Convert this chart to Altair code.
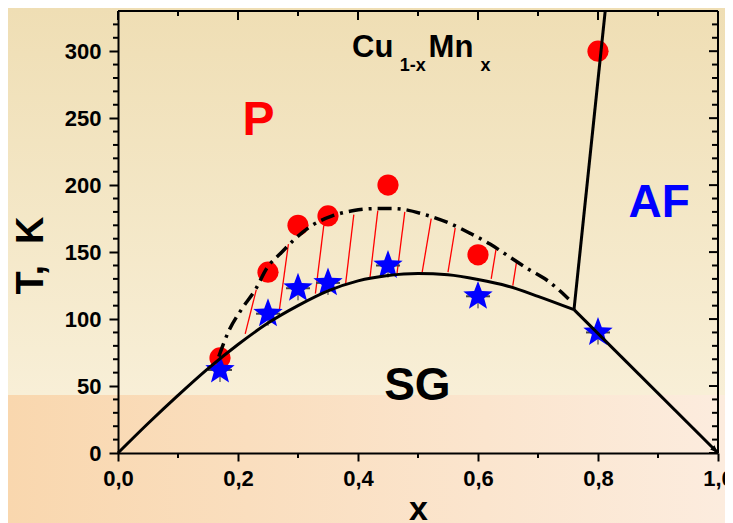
import altair as alt
import pandas as pd

# ---------------- data ----------------
circle_x = [0.17, 0.25, 0.30, 0.35, 0.45, 0.60, 0.80]
circle_T = [71, 135, 170, 177, 200, 148, 300]

star_x = [0.17, 0.25, 0.30, 0.35, 0.45, 0.60, 0.80]
star_T = [62, 104, 123, 127, 140, 117, 90]
star_xerr = [0.02, 0.02, 0.02, 0.02, 0.02, 0.02, 0.02]
star_Terr = [9, 9, 9, 9, 9, 9, 9]

# spin-glass boundary (solid curve)
sg_x = [0.0, 0.05, 0.10, 0.15, 0.20, 0.25, 0.30, 0.35, 0.40, 0.45, 0.50, 0.55, 0.60, 0.65, 0.70, 0.76]
sg_T = [0, 22, 43, 63, 81, 97, 110, 121, 128.5, 132.5, 134, 133, 129.5, 124.5, 117, 107]

# SG / AF boundary and P / AF boundary (straight segments)
af_x = [0.76, 1.00]
af_T = [107, 0]
pa_x = [0.76, 0.812]
pa_T = [107, 330]

# dash-dot curve
dd_x = [0.168, 0.184, 0.207, 0.229, 0.248, 0.272, 0.293, 0.32, 0.357, 0.393, 0.43, 0.46,
        0.515, 0.55, 0.587, 0.62, 0.654, 0.685, 0.715, 0.751]
dd_T = [72, 90.5, 108, 122, 138, 149.5, 159, 169, 177, 181, 182.5, 182.5,
        177.5, 172, 164, 156, 146, 137, 129, 115]

# red hatch lines (bottom end -> top end)
hatch_x1 = [0.212, 0.269, 0.329, 0.379, 0.420, 0.465, 0.507, 0.550, 0.622, 0.658]
hatch_T1 = [89, 107, 119, 125, 131, 134, 135, 135, 130, 125]
hatch_x2 = [0.2305, 0.284, 0.343, 0.393, 0.433, 0.478, 0.522, 0.562, 0.630, 0.664]
hatch_T2 = [122, 156, 170, 178, 181, 180, 175, 168, 152, 142]

# axis ticks
x_major = [0.0, 0.2, 0.4, 0.6, 0.8, 1.0]
x_minor = [0.1, 0.3, 0.5, 0.7, 0.9]
T_major = [0, 50, 100, 150, 200, 250, 300]
T_minor = [10, 20, 30, 40, 60, 70, 80, 90, 110, 120, 130, 140, 160, 170, 180, 190,
           210, 220, 230, 240, 260, 270, 280, 290, 310, 320]

# region labels
region_text = ["P", "AF", "SG"]
region_x = [0.234, 0.902, 0.499]
region_T = [248, 187, 50]
region_color = ["#FF0000", "#0000FF", "#000000"]

formula_text = ["Cu", "Mn"]
formula_x = [0.39, 0.5177]
formula_T = [295.7, 295.7]
sub_text = ["1-x", "x"]
sub_x = [0.4695, 0.604]
sub_T = [285.3, 285.3]

# ---------------- layout / style ----------------
W, H = 600, 442
FONT = "Liberation Sans"
XMAX, TMAX = 1.0, 330

xscale = alt.Scale(domain=[0, XMAX], nice=False, zero=False)
yscale = alt.Scale(domain=[0, TMAX], nice=False, zero=False)

xaxis = alt.Axis(values=x_major, tickSize=8, tickWidth=2, tickColor="black",
                 domainColor="black", domainWidth=2, grid=False, zindex=1,
                 labelExpr="replace(format(datum.value, '.1f'), '.', ',')",
                 labelFont=FONT, labelFontSize=22, labelFontWeight="bold", labelColor="black",
                 labelPadding=7, labelFlush=False, labelOverlap=False,
                 title="x", titleFont=FONT, titleFontSize=34, titleFontWeight="bold",
                 titleColor="black", titleBaseline="alphabetic", titleY=66)
yaxis = alt.Axis(values=T_major, tickSize=9, tickWidth=2, tickColor="black",
                 domainColor="black", domainWidth=2, grid=False, zindex=1,
                 labelFont=FONT, labelFontSize=22, labelFontWeight="bold", labelColor="black",
                 labelPadding=8, labelFlush=False, labelOverlap=False,
                 title="T,\u00a0\u00a0K", titleFont=FONT, titleFontSize=38, titleFontWeight="bold",
                 titleColor="black", titleAngle=-90, titleBaseline="alphabetic",
                 titleAlign="center", titleX=-76, titleY=244)


def X(field="x"):
    return alt.X(f"{field}:Q", scale=xscale, axis=xaxis)


def Y(field="T"):
    return alt.Y(f"{field}:Q", scale=yscale, axis=yaxis)


one = pd.DataFrame({"a": [0]})

bg_top = alt.Chart(one).mark_rect(
    color=alt.LinearGradient(gradient="linear", x1=0, x2=0, y1=0, y2=1,
                             stops=[alt.GradientStop(color="#EFDEB4", offset=0),
                                    alt.GradientStop(color="#F8EFD7", offset=1)])
).encode(x=alt.value(-110), x2=alt.value(W + 7), y=alt.value(-3), y2=alt.value(384))

bg_bot = alt.Chart(one).mark_rect(
    color=alt.LinearGradient(gradient="linear", x1=0, x2=1, y1=0, y2=0,
                             stops=[alt.GradientStop(color="#F9D7AE", offset=0),
                                    alt.GradientStop(color="#FCECDE", offset=1)])
).encode(x=alt.value(-110), x2=alt.value(W + 7), y=alt.value(384), y2=alt.value(H + 70))

hatch_df = pd.DataFrame({"x": hatch_x1, "T": hatch_T1, "x2": hatch_x2, "T2": hatch_T2})
hatch = alt.Chart(hatch_df).mark_rule(color="#FF0000", strokeWidth=1.3).encode(
    x=X(), y=Y(), x2="x2:Q", y2="T2:Q")

circ_df = pd.DataFrame({"x": circle_x, "T": circle_T})
circles = alt.Chart(circ_df).mark_point(shape="circle", filled=True, color="#FF0000",
                                        size=450, opacity=1).encode(x=X(), y=Y())

star_df = pd.DataFrame({"x": star_x, "T": star_T, "xe": star_xerr, "Te": star_Terr})
star_df["xlo"] = star_df["x"] - star_df["xe"]
star_df["xhi"] = star_df["x"] + star_df["xe"]
star_df["Tlo"] = star_df["T"] - star_df["Te"]
star_df["Thi"] = star_df["T"] + star_df["Te"]
err_h = alt.Chart(star_df).mark_rule(color="#444444", strokeWidth=2).encode(
    x=alt.X("xlo:Q", scale=xscale, axis=xaxis), x2="xhi:Q", y=Y())
err_v = alt.Chart(star_df).mark_rule(color="#333333", strokeWidth=1).encode(
    x=X(), y=alt.Y("Tlo:Q", scale=yscale, axis=yaxis), y2="Thi:Q")

STAR = ("M0,-1 L0.2469,-0.3398 L0.9511,-0.309 L0.3995,0.1298 L0.5878,0.809 L0,0.42 "
        "L-0.5878,0.809 L-0.3995,0.1298 L-0.9511,-0.309 L-0.2469,-0.3398 Z")
stars = alt.Chart(star_df).mark_point(shape=STAR, filled=True, color="#0000FF",
                                      size=950, opacity=1).encode(x=X(), y=Y())

sg_df = pd.DataFrame({"x": sg_x, "T": sg_T})
sg_line = alt.Chart(sg_df).mark_line(color="black", strokeWidth=3, interpolate="monotone").encode(
    x=X(), y=Y())

af_df = pd.DataFrame({"x": af_x, "T": af_T})
af_line = alt.Chart(af_df).mark_line(color="black", strokeWidth=3).encode(x=X(), y=Y())

pa_df = pd.DataFrame({"x": pa_x, "T": pa_T})
pa_line = alt.Chart(pa_df).mark_line(color="black", strokeWidth=3).encode(x=X(), y=Y())

dd_df = pd.DataFrame({"x": dd_x, "T": dd_T})
dd_line = alt.Chart(dd_df).mark_line(color="black", strokeWidth=3.5, interpolate="monotone",
                                     strokeDash=[14, 6, 3, 6]).encode(x=X(), y=Y())

arrow_df = pd.DataFrame({"x": [af_x[-1]], "T": [af_T[-1]]})
arrow = alt.Chart(arrow_df).mark_point(shape="M0,0 L-0.6,1.6 L0.6,1.6 Z", filled=True,
                                       color="black", size=100, angle=135, opacity=1).encode(
    x=X(), y=Y())

reg_df = pd.DataFrame({"x": region_x, "T": region_T, "t": region_text, "c": region_color})
reg_P = alt.Chart(reg_df.iloc[[0]]).mark_text(font=FONT, fontSize=48, fontWeight="bold",
                                              baseline="middle", align="center").encode(
    x=X(), y=Y(), text="t:N", color=alt.Color("c:N", scale=None))
reg_rest = alt.Chart(reg_df.iloc[[1, 2]]).mark_text(font=FONT, fontSize=46, fontWeight="bold",
                                                    baseline="middle", align="center").encode(
    x=X(), y=Y(), text="t:N", color=alt.Color("c:N", scale=None))

form_df = pd.DataFrame({"x": formula_x, "T": formula_T, "t": formula_text})
form = alt.Chart(form_df).mark_text(font=FONT, fontSize=31, fontWeight="bold", color="black",
                                    align="left", baseline="alphabetic").encode(
    x=X(), y=Y(), text="t:N")
sub_df = pd.DataFrame({"x": sub_x, "T": sub_T, "t": sub_text})
subs = alt.Chart(sub_df).mark_text(font=FONT, fontSize=18, fontWeight="bold", color="black",
                                   align="left", baseline="alphabetic").encode(
    x=X(), y=Y(), text="t:N")

# extra ticks: minor (left / bottom, outward) and mirrored (top / right, inward)
xmin_df = pd.DataFrame({"x": x_minor})
xmaj_df = pd.DataFrame({"x": x_major})
Tmin_df = pd.DataFrame({"T": T_minor})
Tmaj_df = pd.DataFrame({"T": T_major})
tick_style = dict(color="black", strokeWidth=2)
bot_minor = alt.Chart(xmin_df).mark_rule(**tick_style).encode(
    x=X(), y=alt.value(H), y2=alt.value(H + 5))
top_minor = alt.Chart(xmin_df).mark_rule(**tick_style).encode(
    x=X(), y=alt.value(0), y2=alt.value(5))
top_major = alt.Chart(xmaj_df).mark_rule(**tick_style).encode(
    x=X(), y=alt.value(0), y2=alt.value(9))
left_minor = alt.Chart(Tmin_df).mark_rule(**tick_style).encode(
    y=Y(), x=alt.value(-5), x2=alt.value(0))
right_minor = alt.Chart(Tmin_df).mark_rule(**tick_style).encode(
    y=Y(), x=alt.value(W - 6), x2=alt.value(W))
right_major = alt.Chart(Tmaj_df).mark_rule(**tick_style).encode(
    y=Y(), x=alt.value(W - 9), x2=alt.value(W))
# frame: top and right edges of the plot box
frame_top = alt.Chart(one).mark_rule(**tick_style).encode(
    x=alt.value(0), x2=alt.value(W), y=alt.value(0))
frame_right = alt.Chart(one).mark_rule(**tick_style).encode(
    x=alt.value(W), y=alt.value(0), y2=alt.value(H))

chart = alt.layer(
    bg_top, bg_bot, hatch, circles, err_h, err_v, stars,
    sg_line, af_line, pa_line, dd_line, arrow,
    reg_P, reg_rest, form, subs,
    bot_minor, top_minor, top_major, left_minor, right_minor, right_major,
    frame_top, frame_right,
).properties(
    width=W, height=H,
    autosize=alt.AutoSizeParams(type="none"),
    padding={"left": 110, "top": 3, "right": 7, "bottom": 70},
).configure(
    background="#F6EBCF",
).configure_view(
    stroke=None,
)

chart.save("out.html", embed_options={"renderer": "svg", "actions": False})
